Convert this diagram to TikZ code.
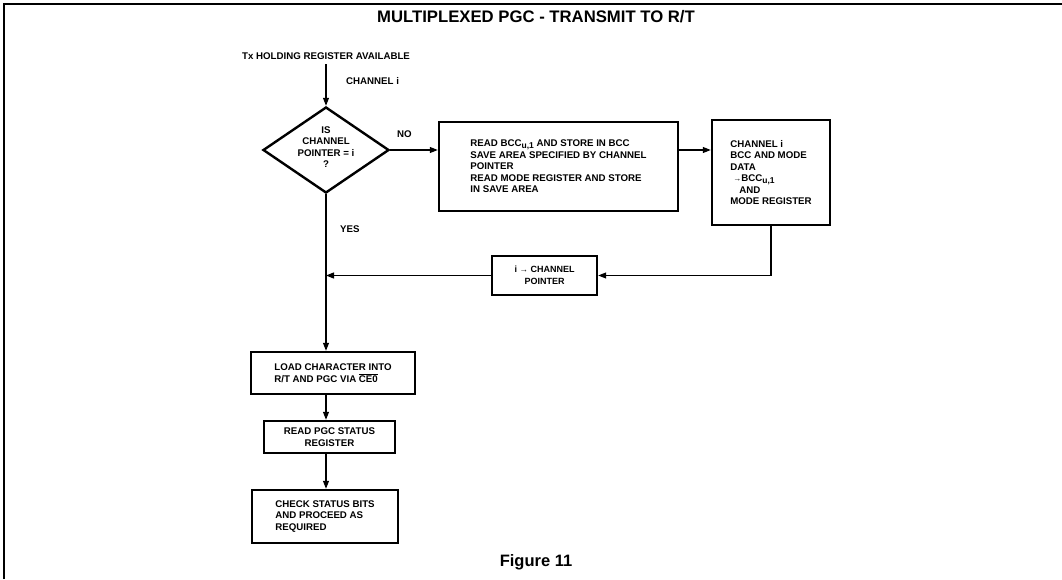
\documentclass[tikz,border=0pt]{standalone}
\usepackage{fontspec}
\setmainfont{Liberation Sans}
\usetikzlibrary{shapes.geometric,arrows.meta}
\begin{document}
\begin{tikzpicture}[x=1pt,y=-1pt,
  txt/.style={font=\fontsize{9.7}{11.5}\selectfont\bfseries, inner sep=0pt},
  box/.style={draw, line width=2.4pt, font=\fontsize{9.7}{11.5}\selectfont\bfseries, inner sep=0pt},
  ln/.style={line width=1.1pt},
  arr/.style={line width=1.1pt, -{Triangle[length=8pt,width=6pt]}}]
\useasboundingbox (0,0) rectangle (1062,579);
% frame
\draw[line width=2pt] (4,579) -- (4,4) -- (1062,4);
% title
\node[font=\fontsize{16.7}{18}\selectfont\bfseries, inner sep=0pt] (title) at (536,17) {MULTIPLEXED PGC - TRANSMIT TO R/T};
% start
\node[txt] (tx) at (326,56) {Tx HOLDING REGISTER AVAILABLE};
\node[txt, anchor=west] (chl) at (346,81) {CHANNEL i};
% decision
\node[draw, diamond, line width=2.4pt, minimum width=126pt, minimum height=86pt, inner sep=0pt] (dec) at (326,150) {};
\node[txt, align=center] (dect) at (326,147) {IS\\CHANNEL\\POINTER = i\\?};
\node[txt, anchor=west] (no) at (397,134) {NO};
\node[txt, anchor=west] (yes) at (340,229) {YES};
% boxes
\node[box, minimum width=239pt, minimum height=89pt, align=left] (rd) at (558.5,166.5)
  {READ BCC\raisebox{-2pt}{\fontsize{8.5}{8.5}\selectfont u,1} AND STORE IN BCC\\SAVE AREA SPECIFIED BY CHANNEL\\POINTER\\READ MODE REGISTER AND STORE\\IN SAVE AREA};
\node[box, minimum width=118pt, minimum height=105pt, align=left] (ch) at (771,172.5)
  {CHANNEL i\\BCC AND MODE\\DATA\\\hspace*{3pt}{\fontsize{8}{8}\selectfont →}BCC\raisebox{-2pt}{\fontsize{8.5}{8.5}\selectfont u,1}\\\hspace*{9pt}AND\\MODE REGISTER};
\node[box, minimum width=105pt, minimum height=39pt, align=center, font=\fontsize{9}{11.5}\selectfont\bfseries] (ptr) at (544.5,275.5)
  {i {\fontsize{8.5}{8.5}\selectfont →} CHANNEL\\POINTER};
\node[box, minimum width=164pt, minimum height=42pt, align=left] (ld) at (333,373)
  {LOAD CHARACTER INTO\\R/T AND PGC VIA $\overline{\hbox{CE0}}$};
\node[box, minimum width=131pt, minimum height=32pt, align=center] (rp) at (329.5,437)
  {READ PGC STATUS\\REGISTER};
\node[box, minimum width=146pt, minimum height=53pt, align=left] (ck) at (325,516.5)
  {CHECK STATUS BITS\\AND PROCEED AS\\REQUIRED};
% caption
\node[font=\fontsize{16.5}{18}\selectfont\bfseries, inner sep=0pt] (fig) at (536,562) {Figure 11};
% connectors
\coordinate (s) at (326,64);
\draw[arr] (s) -- (dec.north);
\draw[arr] (dec.east) -- (dec.east -| rd.west);
\draw[arr] (dec.east -| rd.east) -- (dec.east -| ch.west);
\draw[arr] (ch.south) |- (ptr.east);
\draw[arr] (ptr.west) -- (ptr.west -| dec.south);
\draw[arr] (dec.south) -- (dec.south |- ld.north);
\draw[arr] (dec.south |- ld.south) -- (dec.south |- rp.north);
\draw[arr] (dec.south |- rp.south) -- (dec.south |- ck.north);
\end{tikzpicture}
\end{document}
